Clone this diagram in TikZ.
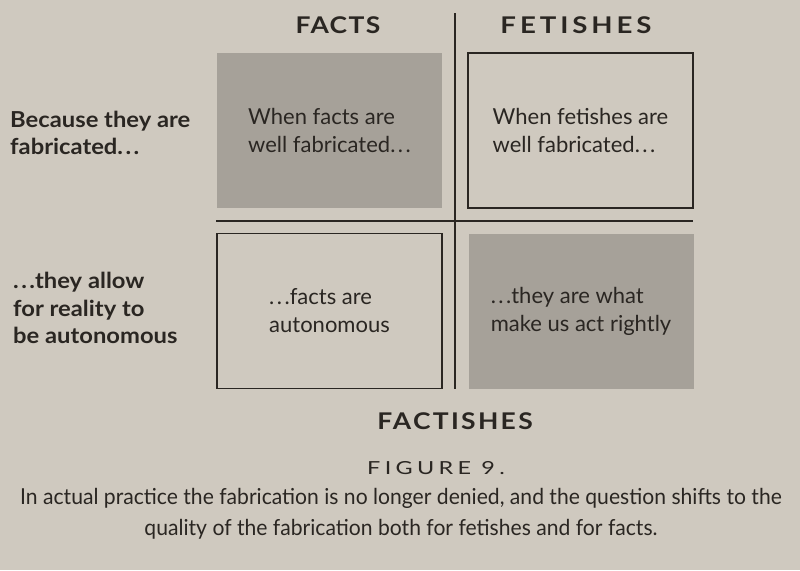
\documentclass[tikz,border=0pt]{standalone}
\usepackage{fontspec}
\setmainfont{Lato}
\newfontfamily\factsfont[FakeStretch=1.15,LetterSpace=6]{Lato}
\newfontfamily\fetishfont[FakeStretch=1.2,LetterSpace=17]{Lato}
\newfontfamily\widefont[FakeStretch=1.15,LetterSpace=10]{Lato}
\newfontfamily\labelfont[FakeStretch=1.08]{Lato}
\newfontfamily\figfont[FakeStretch=1.3,LetterSpace=24]{Lato}
\newfontfamily\capfont[FakeStretch=0.96]{Lato}
\definecolor{paper}{HTML}{CFC9BF}
\definecolor{shade}{HTML}{A6A199}
\definecolor{ink}{HTML}{2A2622}
% spaced ellipsis
\newcommand{\sdots}{.\kern2.5pt.\kern2.5pt.}
\tikzset{
  cell/.style={minimum width=225pt, minimum height=155pt, inner sep=0pt,
    align=left, text=ink, font=\fontsize{22}{28}\selectfont},
  shadedcell/.style={cell, fill=shade},
  opencell/.style={cell, draw=ink, line width=1.6pt},
  rule/.style={draw=ink, line width=1.6pt},
  head/.style={text=ink, inner sep=0pt},
  rowlabel/.style={text=ink, anchor=west, align=left, inner sep=0pt,
    font=\labelfont\bfseries\fontsize{22}{27.5}\selectfont},
}
\begin{document}
\begin{tikzpicture}[x=1pt,y=-1pt]
  \fill[paper] (0,0) rectangle (800,570);
  \useasboundingbox (0,0) rectangle (800,570);

  % column headings
  \node[head, font=\factsfont\bfseries\fontsize{23}{26}\selectfont] (facts) at (338,25) {FACTS};
  \node[head, font=\fetishfont\bfseries\fontsize{23}{26}\selectfont] (fetishes) at (576,25) {FETISHES};

  % the four cells
  \node[shadedcell] (tl) at (329.5,130.5) {When facts are\\well fabricated\sdots};
  \node[opencell]   (tr) at (580.5,130.5) {When fetishes are\\well fabricated\sdots};
  \node[opencell]   (bl) at (329.5,311)   {\sdots facts are\\autonomous};
  \node[shadedcell] (br) at (581,311.5)   {\sdots they are what\\make us act rightly};

  % dividing rules
  \coordinate (vtop) at (455,13);
  \coordinate (vbot) at (455,389);
  \coordinate (hl) at (216,221);
  \coordinate (hr) at (693,221);
  \draw[rule] (vtop) -- (vbot);
  \draw[rule] (hl) -- (hr);

  % row labels
  \node[rowlabel] (because) at (10,133) {Because they are\\fabricated\sdots};
  \node[rowlabel] (allow) at (13,308) {\sdots they allow\\for reality to\\be autonomous};

  % bottom heading and caption
  \node[head, font=\widefont\bfseries\fontsize{23}{26}\selectfont] (factishes) at (455,421) {FACTISHES};
  \node[text=ink, font=\figfont\fontsize{18}{20}\selectfont] (fig) at (436,468) {FIGURE 9.};
  \node[text=ink, align=center, font=\capfont\fontsize{22}{31}\selectfont] (cap) at (401,514)
    {In actual practice the fabrication is no longer denied, and the question shifts to the\\
     quality of the fabrication both for fetishes and for facts.};
\end{tikzpicture}
\end{document}
